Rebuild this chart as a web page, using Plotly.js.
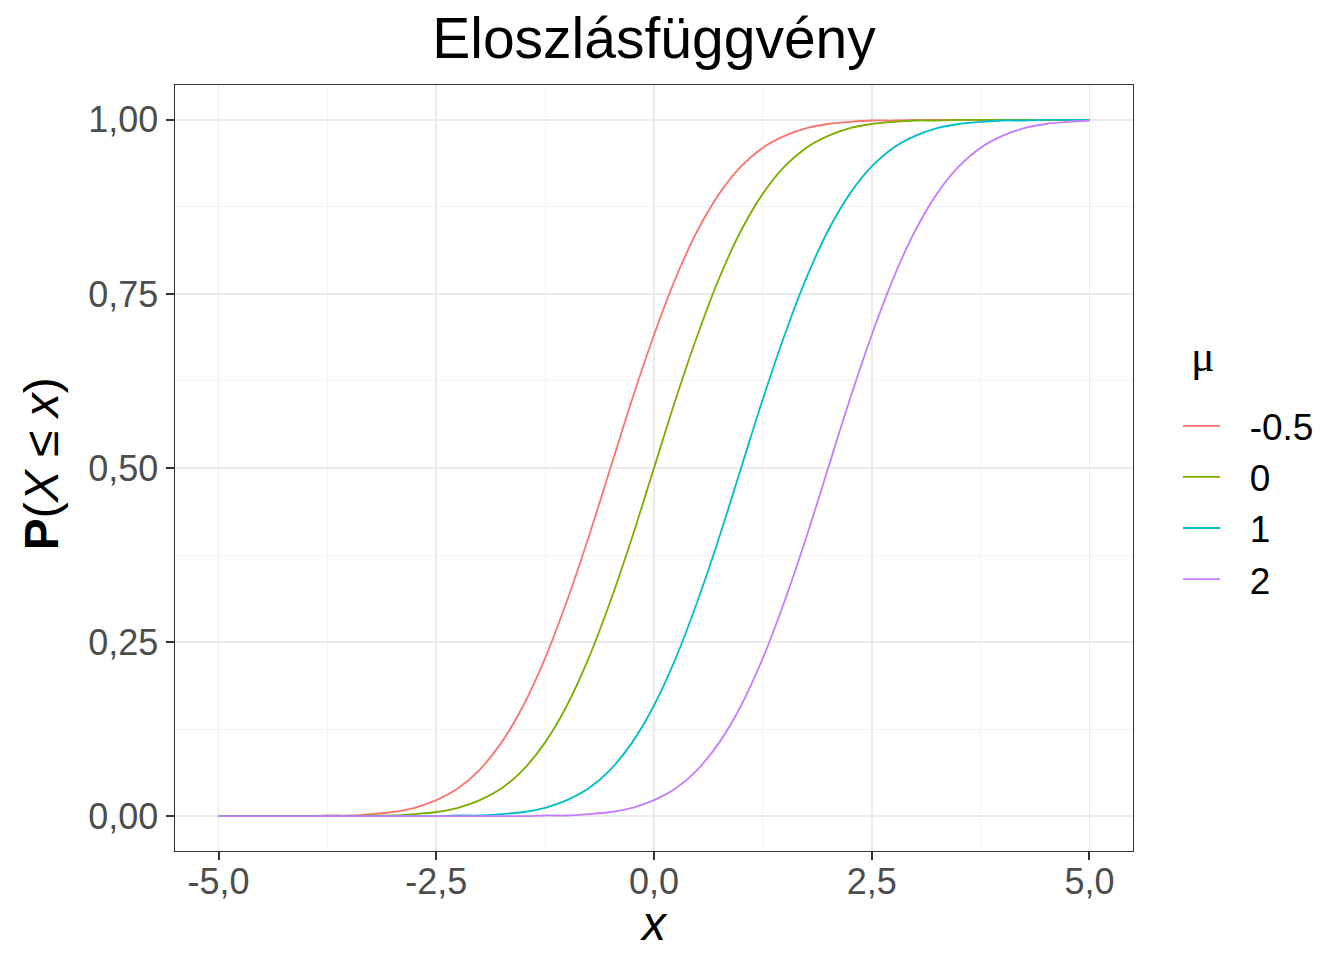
<!DOCTYPE html>
<html>
<head>
<meta charset="utf-8">
<script src="https://cdn.plot.ly/plotly-3.0.1.min.js"></script>
<style>
  html, body { margin: 0; padding: 0; background: #fff; }
  #chart { width: 1344px; height: 960px; }
</style>
</head>
<body>
<div id="chart"></div>
<script>
// ── Data ──────────────────────────────────────────────────────
const X_VALUES = [
  -5, -4.75, -4.5, -4.25, -4, -3.75, -3.5, -3.25, -3, -2.75,
  -2.5, -2.25, -2, -1.75, -1.5, -1.25, -1, -0.75, -0.5, -0.25,
  0, 0.25, 0.5, 0.75, 1, 1.25, 1.5, 1.75, 2, 2.25,
  2.5, 2.75, 3, 3.25, 3.5, 3.75, 4, 4.25, 4.5, 4.75, 5
];

const MU_LABELS = ["-0.5", "0", "1", "2"];
const MU_COLORS = ["#F8766D", "#7CAE00", "#00BFC4", "#C77CFF"];

const CDF_MU_M05 = [
  0, 0, 0, 0, 0, 0.001, 0.001, 0.003, 0.006, 0.012,
  0.023, 0.040, 0.067, 0.106, 0.159, 0.227, 0.309, 0.401, 0.500, 0.599,
  0.691, 0.773, 0.841, 0.894, 0.933, 0.960, 0.977, 0.988, 0.994, 0.997,
  0.999, 0.999, 1, 1, 1, 1, 1, 1, 1, 1, 1
];
const CDF_MU_0 = [
  0, 0, 0, 0, 0, 0, 0, 0.001, 0.001, 0.003,
  0.006, 0.012, 0.023, 0.040, 0.067, 0.106, 0.159, 0.227, 0.309, 0.401,
  0.500, 0.599, 0.691, 0.773, 0.841, 0.894, 0.933, 0.960, 0.977, 0.988,
  0.994, 0.997, 0.999, 0.999, 1, 1, 1, 1, 1, 1, 1
];
const CDF_MU_1 = [
  0, 0, 0, 0, 0, 0, 0, 0, 0, 0,
  0, 0.001, 0.001, 0.003, 0.006, 0.012, 0.023, 0.040, 0.067, 0.106,
  0.159, 0.227, 0.309, 0.401, 0.500, 0.599, 0.691, 0.773, 0.841, 0.894,
  0.933, 0.960, 0.977, 0.988, 0.994, 0.997, 0.999, 0.999, 1, 1, 1
];
const CDF_MU_2 = [
  0, 0, 0, 0, 0, 0, 0, 0, 0, 0,
  0, 0, 0, 0, 0, 0.001, 0.001, 0.003, 0.006, 0.012,
  0.023, 0.040, 0.067, 0.106, 0.159, 0.227, 0.309, 0.401, 0.500, 0.599,
  0.691, 0.773, 0.841, 0.894, 0.933, 0.960, 0.977, 0.988, 0.994, 0.997, 0.999
];

const X_TICKS = [-5, -2.5, 0, 2.5, 5];
const X_TICK_LABELS = ["-5,0", "-2,5", "0,0", "2,5", "5,0"];
const Y_TICKS = [0, 0.25, 0.5, 0.75, 1];
const Y_TICK_LABELS = ["0,00", "0,25", "0,50", "0,75", "1,00"];

// ── Styling ───────────────────────────────────────────────────
const FONT = "Liberation Sans, Arial, sans-serif";
const GRID = "#EBEBEB";
const INK = "#333333";

const series = [CDF_MU_M05, CDF_MU_0, CDF_MU_1, CDF_MU_2];

// legend labels get a small lead-in gap, like ggplot's key spacing
const traces = series.map((ys, i) => ({
  name: "\u2002\u2006" + MU_LABELS[i],
  x: X_VALUES,
  y: ys,
  type: "scatter",
  mode: "lines",
  line: { color: MU_COLORS[i], width: 1.8, shape: "spline", smoothing: 1 },
}));

const axisBase = {
  showline: true,
  mirror: true,
  linecolor: INK,
  linewidth: 1.4,
  ticks: "outside",
  ticklen: 8,
  tickwidth: 2,
  tickcolor: INK,
  tickfont: { family: FONT, size: 36, color: "#4D4D4D" },
  showgrid: true,
  gridcolor: GRID,
  gridwidth: 1.6,
  zeroline: false,
  tickmode: "array",
};

const layout = {
  width: 1344,
  height: 960,
  paper_bgcolor: "#fff",
  plot_bgcolor: "#fff",
  margin: { l: 175, r: 211, t: 85, b: 109 },
  font: { family: FONT, color: "#000" },
  title: {
    text: "Eloszlásfüggvény",
    font: { family: FONT, size: 57, color: "#000" },
    x: 0.5, xref: "paper", xanchor: "center",
    y: 0.96, yref: "container", yanchor: "middle",
  },
  xaxis: Object.assign({}, axisBase, {
    range: [-5.5, 5.5],
    tickvals: X_TICKS,
    ticktext: X_TICK_LABELS,
    ticklabelstandoff: -10,
    minor: { tick0: 0, dtick: 1.25, showgrid: true, gridcolor: "#F3F3F3", gridwidth: 1, ticks: "" },
  }),
  yaxis: Object.assign({}, axisBase, {
    range: [-0.05, 1.05],
    tickvals: Y_TICKS,
    ticktext: Y_TICK_LABELS,
    minor: { tick0: 0, dtick: 0.125, showgrid: true, gridcolor: "#F3F3F3", gridwidth: 1, ticks: "" },
  }),
  showlegend: true,
  legend: {
    x: 1.047, xanchor: "left",
    y: 0.595, yanchor: "top",
    font: { family: FONT, size: 37, color: "#000" },
    bgcolor: "rgba(0,0,0,0)",
    itemwidth: 37,
    tracegroupgap: 0,
  },
  annotations: [
    {
      text: "μ",
      xref: "paper", yref: "paper",
      x: 1.073, y: 0.646,
      xanchor: "center", yanchor: "middle",
      showarrow: false,
      font: { family: "Liberation Serif, serif", size: 44, color: "#000" },
    },
    {
      // x-axis title
      text: "<i>x</i>",
      xref: "paper", yref: "paper",
      x: 0.5, y: -0.094,
      xanchor: "center", yanchor: "middle",
      showarrow: false,
      font: { family: FONT, size: 48, color: "#000" },
    },
    {
      // y-axis title
      text: "<b>P</b>(<i>X</i> ≤ <i>x</i>)",
      xref: "paper", yref: "paper",
      x: -0.139, y: 0.506,
      xanchor: "center", yanchor: "middle",
      textangle: -90,
      showarrow: false,
      font: { family: FONT, size: 48, color: "#000" },
    },
  ],
};

Plotly.newPlot("chart", traces, layout, { staticPlot: true, displayModeBar: false });
</script>
</body>
</html>
